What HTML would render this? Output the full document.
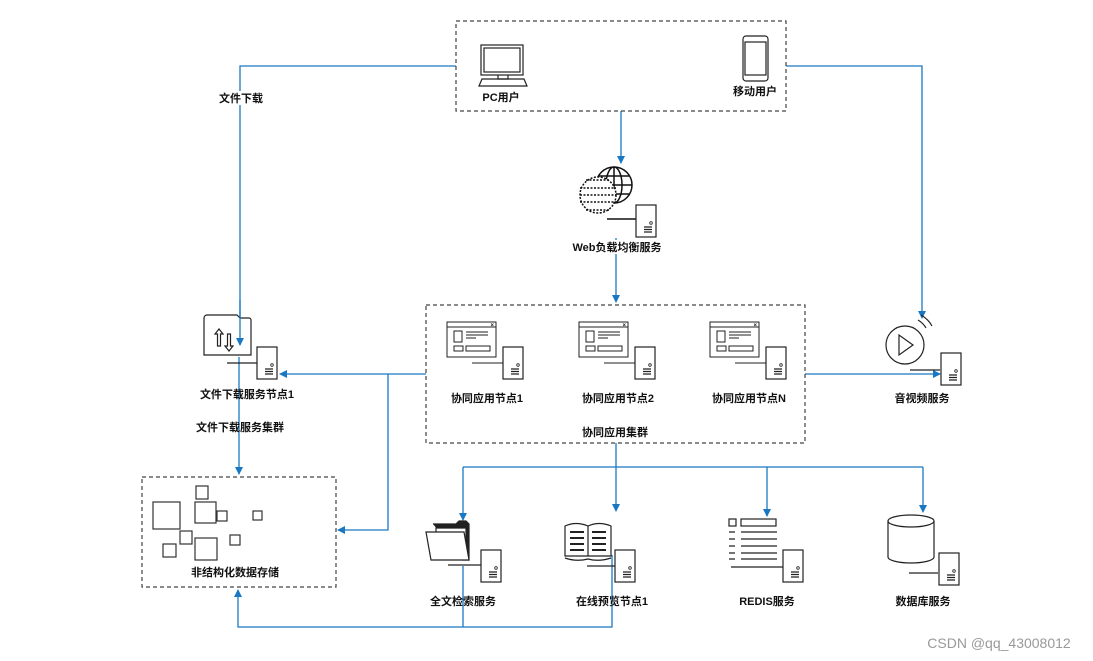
<!DOCTYPE html>
<html><head><meta charset="utf-8"><style>
html,body{margin:0;padding:0;background:#fff;}
svg{display:block;}
text{font-family:"Liberation Sans","Noto Sans CJK SC",sans-serif;font-size:11px;font-weight:bold;fill:#111;text-anchor:middle;}
</style></head><body>
<svg width="1093" height="661" viewBox="0 0 1093 661" xmlns="http://www.w3.org/2000/svg">
<defs>
<marker id="ar" markerWidth="8" markerHeight="8" refX="7" refY="4" orient="auto" markerUnits="userSpaceOnUse">
<path d="M0,0 L8,4 L0,8 Z" fill="#1a78c2"/></marker>
<g id="srv">
<rect x="0" y="0" width="20" height="32" fill="#fff" stroke="#222" stroke-width="1.2"/>
<circle cx="15" cy="18" r="1.3" fill="none" stroke="#222" stroke-width="0.8"/>
<path d="M8,22h8M8,24.5h8M8,27h8" stroke="#222" stroke-width="1.3"/>
</g>
<g id="win">
<rect x="0" y="0" width="49" height="35" fill="#fff" stroke="#222" stroke-width="1"/>
<path d="M0,5h49" stroke="#222"/>
<path d="M44,1.5l2.5,2.5M46.5,1.5l-2.5,2.5" stroke="#222" stroke-width="0.7"/>
<rect x="7" y="9" width="8" height="11" fill="none" stroke="#222"/>
<path d="M19,10h22M19,13h22M19,16h10" stroke="#222"/>
<rect x="7" y="24" width="9" height="5" fill="none" stroke="#222"/>
<rect x="19" y="24" width="24" height="5" fill="none" stroke="#222"/>
</g>
</defs>
<g fill="none" stroke="#1a78c2" stroke-width="1.3">
<path d="M456,66H240V345" marker-end="url(#ar)"/>
<path d="M786,66H922V318" marker-end="url(#ar)"/>
<path d="M621,111V163" marker-end="url(#ar)"/>
<path d="M616,238V302" marker-end="url(#ar)"/>
<path d="M426,374H280" marker-end="url(#ar)"/>
<path d="M388,374V530H338" marker-end="url(#ar)"/>
<path d="M805,374H940" marker-end="url(#ar)"/>
<path d="M239,357V474" marker-end="url(#ar)"/>
<path d="M616,443V467"/>
<path d="M463,467H923"/>
<path d="M463,467V520" marker-end="url(#ar)"/>
<path d="M616,467V511" marker-end="url(#ar)"/>
<path d="M767,467V516" marker-end="url(#ar)"/>
<path d="M923,467V512" marker-end="url(#ar)"/>
<path d="M463,566V627M612,555V627H238V590" marker-end="url(#ar)"/>
</g>
<g fill="none" stroke="#444" stroke-width="1.2" stroke-dasharray="4,3">
<rect x="456" y="21" width="330" height="90"/>
<rect x="426" y="305" width="379" height="138"/>
<rect x="142" y="477" width="194" height="110"/>
</g>
<!-- PC -->
<g stroke="#222" fill="none" stroke-width="1.2">
<rect x="481" y="45" width="42" height="30"/><rect x="484" y="48" width="36" height="24"/>
<path d="M498,75v4h10v-4"/><path d="M482,79h42l3,7h-48z"/>
<rect x="743" y="36" width="25" height="45" rx="3"/><rect x="745" y="42" width="21" height="33"/>
</g>
<text x="501" y="101">PC用户</text>
<text x="755" y="95">移动用户</text>
<!-- globe -->
<g stroke="#111" fill="none" stroke-width="1.5">
<circle cx="614" cy="185" r="18" fill="#fff"/>
<ellipse cx="614" cy="185" rx="8" ry="18"/><path d="M596,185h36M614,167v36M599,176h30M599,194h30"/>
<circle cx="598" cy="195" r="18" fill="#fff" stroke-dasharray="2,1.5"/>
<path d="M580,188h36M580,195h36M580,202h36M586,180h24M586,210h24" stroke-dasharray="2,1.5"/>
<path d="M607,219h29"/>
</g>
<use href="#srv" x="636" y="205"/>
<rect x="568" y="240" width="98" height="14" fill="#fff"/>
<text x="617" y="251">Web负载均衡服务</text>
<!-- cluster nodes -->
<use href="#win" x="447" y="322"/><path d="M472,363h31" stroke="#222"/><use href="#srv" x="503" y="347"/>
<use href="#win" x="579" y="322"/><path d="M604,363h31" stroke="#222"/><use href="#srv" x="635" y="347"/>
<use href="#win" x="710" y="322"/><path d="M735,363h31" stroke="#222"/><use href="#srv" x="766" y="347"/>
<text x="487" y="402">协同应用节点1</text>
<text x="618" y="402">协同应用节点2</text>
<text x="749" y="402">协同应用节点N</text>
<text x="615" y="436">协同应用集群</text>
<!-- download -->
<g stroke="#222" fill="none" stroke-width="1.2">
<path d="M204,318a3,3 0 0 1 3,-3h30l3,3h9a2,2 0 0 1 2,2v35h-47z" fill="#fff"/>
<path d="M219,329l-4,5h2.5v12h3v-12h2.5zM229,351l4,-5h-2.5v-12h-3v12h-2.5z"/>
<path d="M227,363h30"/>
</g>
<path d="M240,300V345" stroke="#1a78c2" stroke-width="1.3" marker-end="url(#ar)"/>
<use href="#srv" x="257" y="347"/>
<text x="247" y="398">文件下载服务节点1</text>
<text x="240" y="431">文件下载服务集群</text>
<rect x="216" y="91" width="48" height="14" fill="#fff"/>
<text x="241" y="102">文件下载</text>
<!-- av -->
<g stroke="#222" fill="none" stroke-width="1.2">
<circle cx="905" cy="345" r="19"/><path d="M899,335v20l14,-10z"/>
<path d="M918,320a22,22 0 0 1 8,8M921,315a28,28 0 0 1 11,11"/>
<path d="M910,370h30"/>
</g>
<use href="#srv" x="941" y="353"/>
<text x="922" y="402">音视频服务</text>
<!-- storage -->
<g stroke="#333" fill="none" stroke-width="1.2">
<rect x="153" y="502" width="27" height="27"/><rect x="196" y="486" width="12" height="13"/>
<rect x="195" y="502" width="21" height="21"/><rect x="217" y="511" width="10" height="10"/>
<rect x="253" y="511" width="9" height="9"/><rect x="180" y="531" width="12" height="13"/>
<rect x="163" y="544" width="13" height="13"/><rect x="195" y="538" width="22" height="22"/>
<rect x="230" y="535" width="10" height="10"/>
</g>
<text x="235" y="576">非结构化数据存储</text>
<!-- bottom services -->
<g stroke="#222" fill="none" stroke-width="1.2">
<path d="M433,524h23l3,-3h7l3,3v36h-7" fill="#222"/>
<path d="M436,528h30v30h-30z" fill="#fff"/>
<path d="M426,532h38l5,28h-38z" fill="#fff"/>
<path d="M448,565h33"/>
<path d="M565,526q11,-5 23,0q11,-5 23,0v30h-46z" fill="#fff"/><path d="M588,526v30"/>
<path d="M570,532h14M570,538h14M570,544h14M570,550h14M592,532h14M592,538h14M592,544h14M592,550h14" stroke-width="2"/>
<path d="M565,558q11,4 23,1q11,3 23,-1"/>
<path d="M587,566h28"/>
<rect x="729" y="519" width="7" height="7"/><rect x="741" y="519" width="35" height="7"/>
<path d="M729,532h6M741,532h36M729,539h6M741,539h36M729,546h6M741,546h36M729,553h6M741,553h36M729,559h6M741,559h36M731,567h52"/>
<path d="M888,521v36a23,6 0 0 0 46,0v-36" fill="#fff"/><ellipse cx="911" cy="521" rx="23" ry="6" fill="#fff"/>
<path d="M909,573h29"/>
</g>
<use href="#srv" x="481" y="550"/>
<use href="#srv" x="615" y="550"/>
<use href="#srv" x="783" y="550"/>
<use href="#srv" x="939" y="553"/>
<text x="463" y="605">全文检索服务</text>
<text x="612" y="605">在线预览节点1</text>
<text x="767" y="605">REDIS服务</text>
<text x="923" y="605">数据库服务</text>
<text x="999" y="648" style="font-weight:normal;font-size:14px;fill:#999;">CSDN @qq_43008012</text>
</svg>
</body></html>
